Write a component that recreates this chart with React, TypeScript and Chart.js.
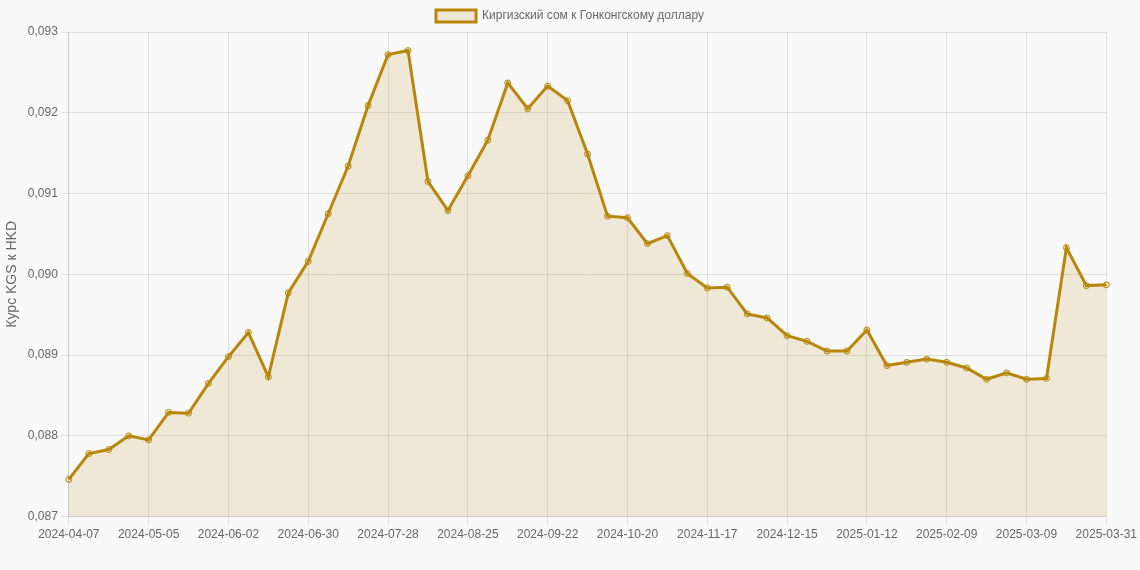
import React, { useEffect, useRef } from "react";
import { Chart, registerables } from "chart.js";

Chart.register(...registerables);

const labels: string[] = [
  "2024-04-07", "2024-04-14", "2024-04-21", "2024-04-28", "2024-05-05", "2024-05-12",
  "2024-05-19", "2024-05-26", "2024-06-02", "2024-06-09", "2024-06-16", "2024-06-23",
  "2024-06-30", "2024-07-07", "2024-07-14", "2024-07-21", "2024-07-28", "2024-08-04",
  "2024-08-11", "2024-08-18", "2024-08-25", "2024-09-01", "2024-09-08", "2024-09-15",
  "2024-09-22", "2024-09-29", "2024-10-06", "2024-10-13", "2024-10-20", "2024-10-27",
  "2024-11-03", "2024-11-10", "2024-11-17", "2024-11-24", "2024-12-01", "2024-12-08",
  "2024-12-15", "2024-12-22", "2024-12-29", "2025-01-05", "2025-01-12", "2025-01-19",
  "2025-01-26", "2025-02-02", "2025-02-09", "2025-02-16", "2025-02-23", "2025-03-02",
  "2025-03-09", "2025-03-16", "2025-03-23", "2025-03-30", "2025-03-31",
];

const kgsToHkd: number[] = [
  0.08746, 0.08778, 0.08783, 0.08800, 0.08795, 0.08829,
  0.08828, 0.08865, 0.08898, 0.08928, 0.08873, 0.08977,
  0.09016, 0.09075, 0.09134, 0.09209, 0.09272, 0.09277,
  0.09115, 0.09079, 0.09122, 0.09166, 0.09237, 0.09205,
  0.09233, 0.09215, 0.09149, 0.09072, 0.09070, 0.09038,
  0.09048, 0.09001, 0.08983, 0.08984, 0.08951, 0.08946,
  0.08924, 0.08917, 0.08905, 0.08905, 0.08931, 0.08887,
  0.08891, 0.08895, 0.08891, 0.08884, 0.08870, 0.08878,
  0.08870, 0.08871, 0.09033, 0.08986, 0.08987,
];

const seriesLabel = "Киргизский сом к Гонконгскому доллару";
const yAxisTitle = "Курс KGS к HKD";

export default function App() {
  const canvasRef = useRef<HTMLCanvasElement | null>(null);

  useEffect(() => {
    document.body.style.margin = "0";
    document.body.style.background = "#f9f9f9";
    if (!canvasRef.current) return;
    const chart = new Chart(canvasRef.current, {
      type: "line",
      data: {
        labels,
        datasets: [
          {
            label: seriesLabel,
            data: kgsToHkd,
            borderColor: "#B8860B",
            backgroundColor: "rgba(184,134,11,0.15)",
            borderWidth: 3,
            fill: true,
            tension: 0,
            pointRadius: 3,
            pointBorderWidth: 1,
            pointBorderColor: "#B8860B",
            pointBackgroundColor: "rgba(184,134,11,0.15)",
          },
        ],
      },
      options: {
        animation: false,
        responsive: true,
        maintainAspectRatio: false,
        plugins: {
          legend: {
            display: true,
            labels: { color: "#666", font: { size: 12 } },
          },
          tooltip: { enabled: false },
        },
        scales: {
          x: {
            ticks: { color: "#666", font: { size: 12 }, maxRotation: 0, autoSkip: true },
            grid: { color: "rgba(0,0,0,0.1)" },
          },
          y: {
            min: 0.087,
            max: 0.093,
            ticks: {
              stepSize: 0.001,
              color: "#666",
              font: { size: 12 },
              callback: (v: any) => Number(v).toFixed(3).replace(".", ","),
            },
            grid: { color: "rgba(0,0,0,0.1)" },
            title: { display: true, text: yAxisTitle, color: "#666", font: { size: 14 } },
          },
        },
      },
    });
    return () => chart.destroy();
  }, []);

  return (
    <div style={{ position: "relative", width: "1140px", height: "545px" }}>
      <canvas ref={canvasRef} />
    </div>
  );
}
